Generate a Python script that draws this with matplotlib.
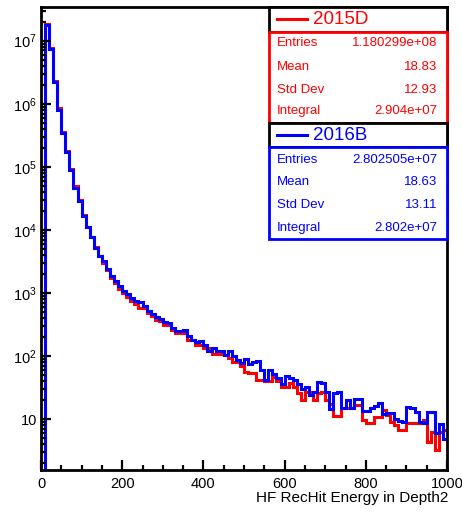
import numpy as np
import matplotlib
matplotlib.use("Agg")
import matplotlib.pyplot as plt
from matplotlib.patches import Rectangle
from matplotlib.ticker import FixedLocator, LogLocator, MultipleLocator, NullFormatter

# ========================
# Configuración general
# ========================

plt.rcParams["font.family"] = ["Liberation Sans", "DejaVu Sans"]
plt.rcParams["mathtext.fontset"] = "custom"
plt.rcParams["mathtext.rm"] = "Liberation Sans"
plt.rcParams["mathtext.it"] = "Liberation Sans:italic"

ANCHO, ALTO = 462, 515

# ========================
# Datos (bins de 10 en 0-1000)
# ========================

bordes = np.arange(0, 1010, 10)

cuentas_2015D = np.array([
    0, 1.84e7, 7.6e6, 2.3e6, 8.5e5, 3.6e5, 1.8e5, 9.4e4, 5.0e4, 3.0e4,
    1.73e4, 1.13e4, 7.8e3, 5.3e3, 3.8e3, 3.05e3, 2.3e3, 1.75e3, 1.42e3, 1.18e3,
    990, 870, 760, 680, 581, 581, 484, 429, 380, 357,
    316, 316, 263, 232, 232, 232, 182, 182, 152, 152,
    134, 134, 110, 110, 110, 103, 92, 82, 82, 69,
    57, 54, 54, 42, 42, 41, 41, 46, 40, 33,
    33, 37, 33, 26, 20, 27, 27, 20, 26, 27,
    20, 17.7, 11.4, 11.4, 15.2, 15.2, 15.2, 17, 17, 9.8,
    8.6, 8.6, 11, 11, 14.2, 11.8, 9.1, 8.2, 6.8, 6.8,
    8.6, 8.6, 8.6, 8.6, 9.8, 4.4, 6.3, 3.3, 6.3, 6.8,
])

cuentas_2016B = np.array([
    0, 1.78e7, 7.3e6, 2.2e6, 8.1e5, 3.4e5, 1.7e5, 8.9e4, 4.7e4, 2.9e4,
    1.68e4, 1.1e4, 7.6e3, 5.2e3, 3.9e3, 3.2e3, 2.4e3, 1.86e3, 1.55e3, 1.29e3,
    1070, 950, 835, 760, 724, 618, 515, 461, 413, 384,
    344, 332, 276, 247, 247, 256, 206, 178, 167, 176,
    152, 119, 134, 122, 119, 105, 119, 99, 88, 77,
    91, 75, 80, 85, 61, 42, 61, 52, 45, 36,
    49, 45, 42, 36, 30, 33, 24, 27, 39, 37,
    27, 14.5, 26, 27, 15, 20, 15, 21, 21, 13.5,
    13.5, 15, 16, 18, 12, 12.4, 12.4, 10, 9.5, 9.1,
    15.8, 15, 13, 9.1, 8.8, 13.2, 13.2, 6.1, 8.5, 4.9,
])

ticks_y = [10, 1e2, 1e3, 1e4, 1e5, 1e6, 1e7]
etiquetas_y = ["10", "$10^{2}$", "$10^{3}$", "$10^{4}$", "$10^{5}$", "$10^{6}$", "$10^{7}$"]

estad_2015D = [("Entries", "1.180299e+08"), ("Mean", "18.83"),
               ("Std Dev", "12.93"), ("Integral", "2.904e+07")]
estad_2016B = [("Entries", "2.802505e+07"), ("Mean", "18.63"),
               ("Std Dev", "13.11"), ("Integral", "2.802e+07")]


# ========================
# Funciones
# ========================

def fx(x):
    return x / ANCHO


def fy(y):
    return 1 - y / ALTO


def caja_estadisticas(fig, nombre, color, filas, y_titulo, y_caja, y_fin, y_filas):
    """Dibuja la caja de estadísticas al estilo ROOT (título + filas)."""
    x0, x1 = 269, 447
    fig.patches.append(Rectangle((fx(x0), fy(y_caja)), fx(x1 - x0), (y_caja - y_titulo) / ALTO,
                                 transform=fig.transFigure, facecolor="white",
                                 edgecolor="black", lw=2, zorder=5))
    fig.patches.append(Rectangle((fx(x0), fy(y_fin)), fx(x1 - x0), (y_fin - y_caja) / ALTO,
                                 transform=fig.transFigure, facecolor="white",
                                 edgecolor=color, lw=2, zorder=5))
    yc = (y_titulo + y_caja) / 2
    fig.lines.append(plt.Line2D([fx(277), fx(307)], [fy(yc), fy(yc)], color=color, lw=2.2,
                                transform=fig.transFigure, zorder=6))
    fig.text(fx(313), fy(yc), nombre, color=color, fontsize=13.5, ha="left", va="center", zorder=6)
    for (etiqueta, valor), yf in zip(filas, y_filas):
        fig.text(fx(277), fy(yf), etiqueta, color=color, fontsize=9.5, ha="left", va="center", zorder=6)
        fig.text(fx(437), fy(yf), valor, color=color, fontsize=9.5, ha="right", va="center", zorder=6)


# ========================
# Gráfico
# ========================

fig = plt.figure(figsize=(ANCHO / 100, ALTO / 100), dpi=100)
ax = fig.add_axes([fx(41), fy(470), fx(447 - 41), (470 - 7) / ALTO])

ax.stairs(cuentas_2015D, bordes, color="red", lw=2.2, baseline=None)
ax.stairs(cuentas_2016B, bordes, color="blue", lw=2.2, baseline=None)

ax.set_yscale("log")
ax.set_xlim(0, 1000)
ax.set_ylim(1.57, 3.42e7)

ax.yaxis.set_major_locator(FixedLocator(ticks_y))
ax.set_yticklabels(etiquetas_y)
ax.yaxis.set_minor_locator(LogLocator(base=10, subs=np.arange(2, 10), numticks=20))
ax.yaxis.set_minor_formatter(NullFormatter())
ax.xaxis.set_major_locator(MultipleLocator(200))
ax.xaxis.set_minor_locator(MultipleLocator(50))

ax.tick_params(which="both", direction="in", top=False, right=False, width=1.6)
ax.tick_params(which="major", length=7, labelsize=10.5)
ax.tick_params(axis="y", which="major", pad=3)
ax.tick_params(axis="x", which="major", pad=5)
ax.tick_params(which="minor", length=3.5)

for lado in ax.spines.values():
    lado.set_linewidth(2)

fig.text(fx(448), fy(498), "HF RecHit Energy in Depth2", fontsize=11, ha="right", va="center")

caja_estadisticas(fig, "2015D", "red", estad_2015D, 7, 31.7, 123.3, [43.3, 66.7, 90, 111])
caja_estadisticas(fig, "2016B", "blue", estad_2016B, 123.3, 146.7, 239, [160, 181.7, 205, 227.7])

fig.savefig("out.png", dpi=100)
plt.close(fig)
